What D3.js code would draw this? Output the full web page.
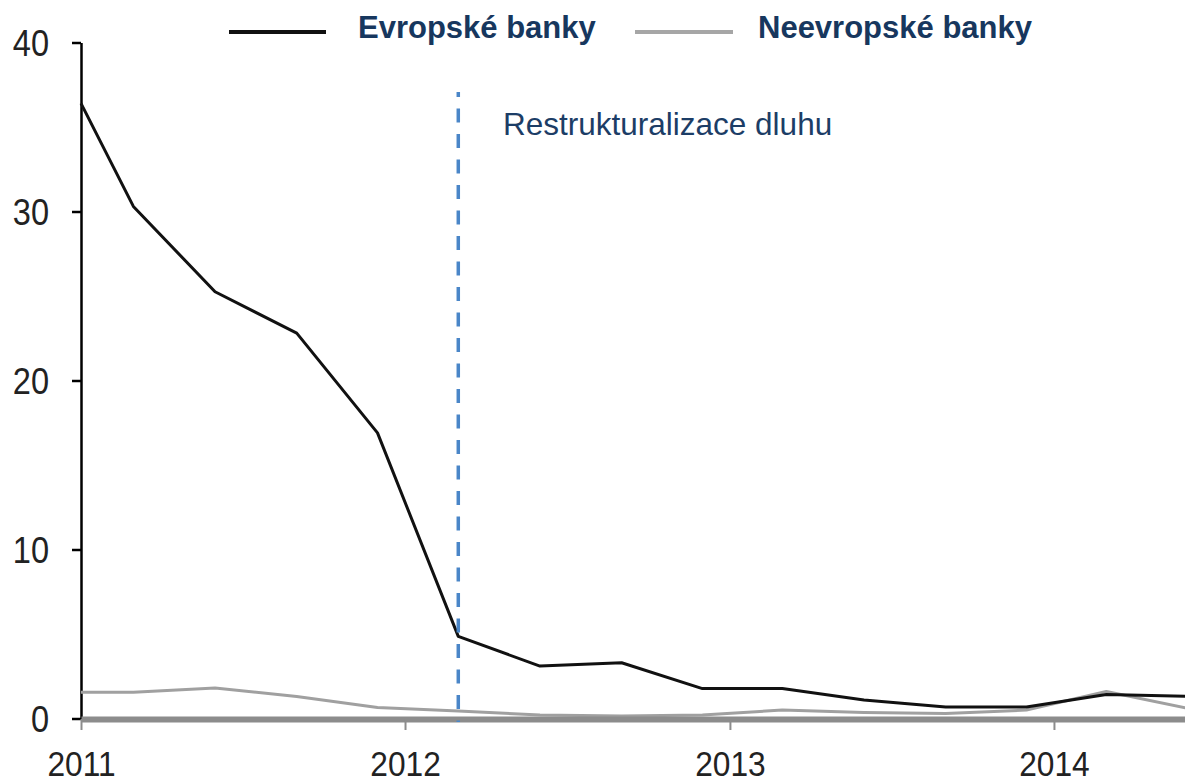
<!DOCTYPE html>
<html lang="cs">
<head>
<meta charset="UTF-8">
<title>Evropské a neevropské banky</title>
<script src="https://cdn.jsdelivr.net/npm/d3@7"></script>
<style>
  body { margin: 0; background: #fff; }
  svg { display: block; font-family: "Liberation Sans", Arial, sans-serif; }
</style>
</head>
<body>
<script>
// quarterly observations (first day of the month)
var dates = ["2011-01", "2011-03", "2011-06", "2011-09", "2011-12",
             "2012-03", "2012-06", "2012-09", "2012-12",
             "2013-03", "2013-06", "2013-09", "2013-12",
             "2014-03", "2014-06"];
var evropske   = [36.4, 30.3, 25.25, 22.8, 16.9, 4.86, 3.1, 3.3, 1.77, 1.77, 1.1, 0.68, 0.68, 1.42, 1.32];
var neevropske = [1.55, 1.55, 1.8, 1.3, 0.65, 0.45, 0.2, 0.15, 0.2, 0.5, 0.35, 0.3, 0.5, 1.6, 0.6];
var yTicks = [0, 10, 20, 30, 40];
var restructDate = "2012-03";
var seriesNames = ["Evropské banky", "Neevropské banky"];
var noteText = "Restrukturalizace dluhu";

var W = 1185, H = 784;
var navy = "#17375e";
var parse = d3.timeParse("%Y-%m");

var svg = d3.select("body").append("svg")
  .attr("width", W)
  .attr("height", H);

var x = d3.scaleTime()
  .domain([parse("2011-01"), parse("2014-06")])
  .range([81, 1188]);

var y = d3.scaleLinear()
  .domain([0, 40])
  .range([718.5, 42.5]);

var sx = 0.88; // tick labels look horizontally squeezed

// y axis
var yAxis = svg.append("g")
  .attr("transform", "translate(81,0)")
  .call(d3.axisLeft(y).tickValues(yTicks).tickSize(9).tickSizeOuter(0));
yAxis.select(".domain").attr("stroke", "#000").attr("stroke-width", 2.5);
yAxis.selectAll(".tick line").attr("stroke", "#000").attr("stroke-width", 2.5);
yAxis.selectAll(".tick text")
  .attr("x", -32 / sx)
  .attr("dy", "0.35em")
  .attr("transform", "scale(" + sx + ",1)")
  .attr("font-size", 37)
  .attr("font-family", "Liberation Sans, Arial, sans-serif")
  .attr("fill", "#222");

// lines
var pts = function(vals) {
  return dates.map(function(d, i) { return {date: parse(d), v: vals[i]}; });
};
var line = d3.line()
  .x(function(d) { return x(d.date); })
  .y(function(d) { return y(d.v); });

svg.append("path")
  .datum(pts(neevropske))
  .attr("d", line)
  .attr("fill", "none")
  .attr("stroke", "#a0a0a0")
  .attr("stroke-width", 3)
  .attr("stroke-linejoin", "round");

// x axis (thick grey zero line)
var xAxis = svg.append("g")
  .attr("transform", "translate(0,719)")
  .call(d3.axisBottom(x)
    .ticks(d3.timeYear.every(1))
    .tickFormat(d3.timeFormat("%Y"))
    .tickSize(11)
    .tickSizeOuter(0));
xAxis.select(".domain").attr("stroke", "#8c8c8c").attr("stroke-width", 6);
xAxis.selectAll(".tick line").attr("stroke", "#8c8c8c").attr("stroke-width", 2);
xAxis.selectAll(".tick text")
  .attr("y", 57)
  .attr("dy", 0)
  .attr("transform", "scale(" + sx + ",1)")
  .attr("font-size", 36)
  .attr("font-family", "Liberation Sans, Arial, sans-serif")
  .attr("fill", "#222");

svg.append("path")
  .datum(pts(evropske))
  .attr("d", line)
  .attr("fill", "none")
  .attr("stroke", "#111")
  .attr("stroke-width", 3)
  .attr("stroke-linejoin", "round");

// debt restructuring marker
var rx = x(parse(restructDate));
svg.append("line")
  .attr("x1", rx).attr("x2", rx)
  .attr("y1", 92).attr("y2", 722)
  .attr("stroke", "#4a86c8")
  .attr("stroke-width", 3.5)
  .attr("stroke-dasharray", "14,11.5")
  .attr("stroke-dashoffset", 9);

svg.append("text")
  .attr("x", 503)
  .attr("y", 135)
  .attr("font-size", 31.5)
  .attr("fill", "#1c3d66")
  .text(noteText);

// legend
var legend = [
  {name: seriesNames[0], color: "#111", x1: 229, x2: 326, tx: 358},
  {name: seriesNames[1], color: "#a6a6a6", x1: 635, x2: 733, tx: 758}
];
var lg = svg.selectAll(".legend")
  .data(legend)
  .enter().append("g")
  .attr("class", "legend");
lg.append("line")
  .attr("x1", function(d) { return d.x1; })
  .attr("x2", function(d) { return d.x2; })
  .attr("y1", 32).attr("y2", 32)
  .attr("stroke", function(d) { return d.color; })
  .attr("stroke-width", 4);
lg.append("text")
  .attr("x", function(d) { return d.tx; })
  .attr("y", 38)
  .attr("font-size", 31)
  .attr("font-weight", "bold")
  .attr("fill", navy)
  .text(function(d) { return d.name; });
</script>
</body>
</html>
